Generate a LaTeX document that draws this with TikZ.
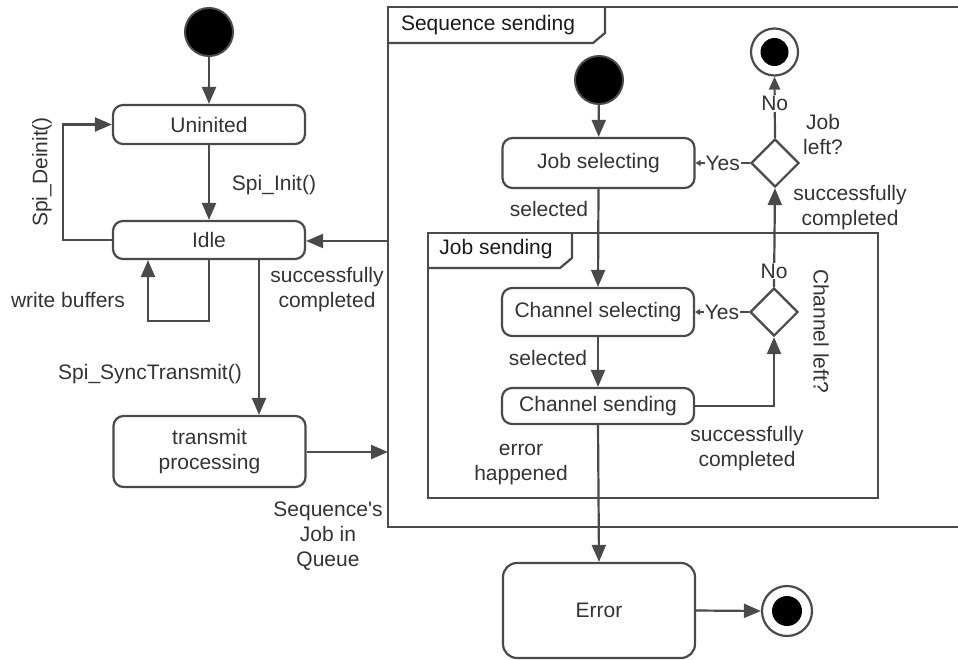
\documentclass[tikz,border=0pt]{standalone}
\usepackage{fontspec}
\setmainfont{Liberation Sans}
\usetikzlibrary{shapes.geometric,arrows.meta,calc}
\definecolor{ln}{HTML}{4A4A4A}
\definecolor{tx}{HTML}{333333}
\definecolor{ttl}{HTML}{1A1A1A}
\begin{document}
\begin{tikzpicture}[x=1pt,y=-1pt,
  font=\fontsize{21}{25}\selectfont,
  every node/.style={text=tx},
  conn/.style={draw=ln,line width=2.2pt},
  arr/.style={conn,-{Triangle[length=17pt,width=14pt]}},
  midarr/.style={conn,-{Triangle[length=13pt,width=11pt]}},
  tinyarr/.style={conn,-{Triangle[length=5pt,width=6pt]}},
  state/.style={draw=ln,line width=2.2pt,rounded corners=10pt,
    minimum width=192pt,inner sep=0pt,align=center},
  startdot/.style={circle,fill=black,draw=ln,line width=2pt,
    minimum size=48pt,inner sep=0pt},
  enddot/.style={circle,draw=ln,line width=2.2pt,fill=white,
    minimum size=47pt,inner sep=0pt},
  decision/.style={diamond,draw=ln,line width=2.2pt,
    minimum width=48pt,minimum height=48pt,inner sep=0pt},
  frame/.style={draw=ln,line width=2.2pt},
  onl/.style={fill=white,inner sep=1pt},
  lbl/.style={align=center,inner sep=0pt},
  ttltext/.style={text=ttl,inner sep=0pt}
]
\useasboundingbox (0,0) rectangle (958,659);
\clip (0,0) rectangle (958,659);

% ---------- outer composite state: Sequence sending ----------
\draw[frame] (975,7) -- (388,7) -- (388,527) -- (975,527);
\draw[frame] (388,43) -- (593,43) -- (605,33) -- (605,7);
\node[ttltext] (seqtitle) at (488,25) {Sequence sending};
\coordinate (seqout) at (388,241);
\coordinate (seqin) at (388,452);

% ---------- inner composite state: Job sending ----------
\draw[frame] (428,233) rectangle (878,498);
\draw[frame] (428,268) -- (560,268) -- (572,258) -- (572,233);
\node[ttltext] (jobtitle) at (496,249) {Job sending};

% ---------- driver states ----------
\node[startdot] (start1) at (209,32) {};
\node[state,minimum height=39pt] (uninited) at (209,124.5) {Uninited};
\node[state,minimum height=38pt] (idle) at (209,240) {Idle};
\node[state,minimum height=71pt] (transmit) at (209.5,451.5) {transmit\\processing};

% ---------- sequence / job / channel states ----------
\node[startdot] (start2) at (599,80) {};
\node[state,minimum height=50pt] (jobsel) at (598.5,163) {Job selecting};
\node[decision] (jobdec) at (775,163) {};
\node[enddot] (fin1) at (774.5,52) {};
\fill[black] (fin1.center) circle[radius=14pt];
\node[state,minimum height=48pt] (chsel) at (598,312) {Channel selecting};
\node[decision] (chdec) at (774,312) {};
\node[state,minimum height=36pt] (chsend) at (598,406) {Channel sending};
\node[state,minimum height=95pt,rounded corners=14pt] (error) at (599,610.5) {Error};
\node[enddot,minimum size=50pt] (fin2) at (787,611) {};
\fill[black] (fin2.center) circle[radius=15pt];

% ---------- transitions of the driver ----------
\draw[arr] (start1) -- (uninited);
\draw[arr] (uninited) -- (idle);
\node[lbl] (initlbl) at (274,185) {Spi\_Init()};
\draw[arr] (idle.west) -- ++(-49,0) |- (uninited.west);
\node[lbl,rotate=90] (deinitlbl) at (42,172) {Spi\_Deinit()};
\draw[arr] (idle.south) -- ++(0,61) -| ($(idle.south)+(-61,0)$);
\node[lbl] (wblbl) at (68,300) {write buffers};
\draw[arr] ([xshift=50pt]idle.south) -- ([xshift=49.5pt]transmit.north);
\node[lbl] (synclbl) at (150,374) {Spi\_SyncTransmit()};
\draw[arr] (transmit.east |- seqin) -- (seqin);
\node[lbl] (queuelbl) at (328,536) {Sequence\textquotesingle s\\Job in\\Queue};
\draw[arr] (seqout) -- (idle.east |- seqout);
\node[lbl] (donelbl1) at (327,290) {successfully\\completed};

% ---------- transitions inside Sequence sending ----------
\draw[arr] (start2) -- (jobsel);
\node[lbl] (sel1lbl) at (549,209) {selected};
\draw[arr] (jobsel.south) -- (chsel.north);
\draw[tinyarr] (jobdec.west) -- node[onl] {Yes} (jobsel.east);
\draw[midarr] (jobdec.north) -- node[onl,pos=0.56] {No} (fin1.south);
\node[lbl] (jobleftlbl) at (823,134) {Job\\left?};
\draw[arr] (chdec.north) -- node[onl,pos=0.16] {No} (jobdec.south);
\node[lbl] (donelbl2) at (850,208) {successfully\\completed};

% ---------- transitions inside Job sending ----------
\draw[tinyarr] (chdec.west) -- node[onl] {Yes} (chsel.east);
\node[lbl,rotate=-90] (chleftlbl) at (821,331) {Channel left?};
\draw[arr] (chsel) -- (chsend);
\node[lbl] (sel2lbl) at (548,358) {selected};
\draw[arr] (chsend.east) -| (chdec.south);
\node[lbl] (donelbl3) at (747,449) {successfully\\completed};
\draw[arr] (chsend.south) -- (error.north);
\node[lbl] (errlbl) at (521,465) {error\\happened};
\draw[arr] (error.east) -- (fin2.west);

\end{tikzpicture}
\end{document}
